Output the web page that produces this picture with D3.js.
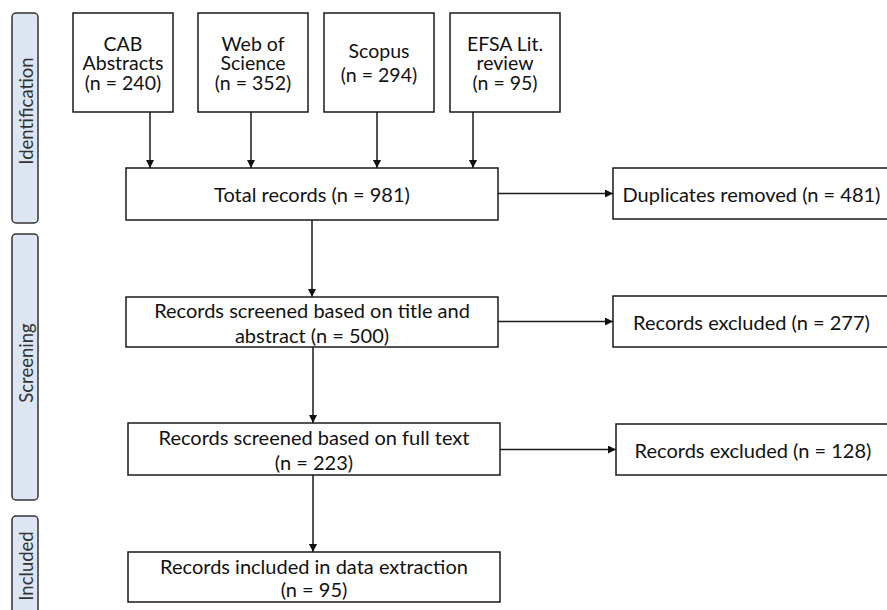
<!DOCTYPE html>
<html><head><meta charset="utf-8">
<script src="https://cdn.jsdelivr.net/npm/d3@7"></script>
<style>
html,body{margin:0;padding:0;background:#fff;}
svg{display:block;}
text{font-family:Lato,"Open Sans",sans-serif;fill:#111;}
</style></head><body>
<script>
// ---- data ----
const phases = ["Identification", "Screening", "Included"];
const sourceNames = [["CAB", "Abstracts"], ["Web of", "Science"], ["Scopus"], ["EFSA Lit.", "review"]];
const sourceCounts = [240, 352, 294, 95];
const mainSteps = [["Total records"], ["Records screened based on title and", "abstract"], ["Records screened based on full text"], ["Records included in data extraction"]];
const mainCounts = [981, 500, 223, 95];
const sideSteps = ["Duplicates removed", "Records excluded", "Records excluded"];
const sideCounts = [481, 277, 128];

// ---- layout ----
const W = 887, H = 610;
const svg = d3.select("body").append("svg").attr("width", W).attr("height", H);
const defs = svg.append("defs");
defs.append("marker").attr("id", "ah").attr("viewBox", "0 0 10 10")
  .attr("refX", 10).attr("refY", 5).attr("markerWidth", 9).attr("markerHeight", 8)
  .attr("markerUnits", "userSpaceOnUse").attr("orient", "auto")
  .append("path").attr("d", "M0,0L10,5L0,10Z").attr("fill", "#111");

const stroke = "#1a1a1a", sw = 1.5;

// phase label boxes
const phaseY = d3.scaleOrdinal().domain(phases).range([[13, 223], [234, 500], [516, 625]]);
const phaseTextY = d3.scaleOrdinal().domain(phases).range([111, 363, 566]);
const pg = svg.append("g");
phases.forEach(p => {
  const [y0, y1] = phaseY(p);
  pg.append("rect").attr("x", 12).attr("y", y0).attr("width", 26).attr("height", y1 - y0)
    .attr("rx", 4).attr("fill", "#dce6f2").attr("stroke", "#333").attr("stroke-width", 1.5);
  pg.append("text").attr("transform", `translate(26,${phaseTextY(p)}) rotate(-90)`)
    .attr("text-anchor", "middle").attr("dominant-baseline", "central")
    .style("font-size", "18.5px").style("fill", "#333").text(p);
});

function box(x, y, w, h, lines, lh, fs) {
  const g = svg.append("g");
  g.append("rect").attr("x", x).attr("y", y).attr("width", w).attr("height", h)
    .attr("fill", "#fff").attr("stroke", stroke).attr("stroke-width", sw);
  const n = lines.length;
  const t = g.append("text").attr("text-anchor", "middle").style("font-size", fs + "px");
  lines.forEach((s, i) => {
    t.append("tspan").attr("x", x + w / 2)
      .attr("y", y + h / 2 + (i - (n - 1) / 2) * lh)
      .attr("dominant-baseline", "central").text(s);
  });
}
function arrow(x1, y1, x2, y2) {
  svg.append("line").attr("x1", x1).attr("y1", y1).attr("x2", x2).attr("y2", y2)
    .attr("stroke", stroke).attr("stroke-width", sw).attr("marker-end", "url(#ah)");
}

// source boxes
const srcX = [[73, 173], [198, 308], [324, 434], [450, 560]];
const srcArrowX = d3.scaleOrdinal().domain(d3.range(4)).range([150, 251, 377, 473]);
const srcTop = 13, srcBot = 112;
sourceNames.forEach((nm, i) => {
  const lines = nm.concat([`(n = ${sourceCounts[i]})`]);
  const lh = lines.length === 2 ? 24 : 19.5;
  box(srcX[i][0], srcTop, srcX[i][1] - srcX[i][0], srcBot - srcTop, lines, lh, 19.5);
  arrow(srcArrowX(i), srcBot, srcArrowX(i), 168);
});

// main column
const mainY = [[168, 220], [297, 347], [423, 475], [552, 602]];
const mainX = [[126, 498], [126, 498], [128, 500], [128, 500]];
const mainArrowX = [312, 313, 313];
mainSteps.forEach((s, i) => {
  let lines;
  if (s.length === 1 && i === 0) lines = [`${s[0]} (n = ${mainCounts[i]})`];
  else if (s.length === 2) lines = [s[0], `${s[1]} (n = ${mainCounts[i]})`];
  else lines = [s[0], `(n = ${mainCounts[i]})`];
  const [x0, x1] = mainX[i], [y0, y1] = mainY[i];
  box(x0, y0, x1 - x0, y1 - y0, lines, i === 3 ? 23 : 25, 20);
  if (i < mainSteps.length - 1) arrow(mainArrowX[i], y1, mainArrowX[i], mainY[i + 1][0]);
});

// side boxes
const sideY = [[168, 219], [296, 347], [424, 475]];
const sideX = [613, 613, 616];
sideSteps.forEach((s, i) => {
  const [y0, y1] = sideY[i];
  box(sideX[i], y0, 890 - sideX[i], y1 - y0, [`${s} (n = ${sideCounts[i]})`], 0, 20);
  const ay = (y0 + y1) / 2;
  arrow(mainX[i][1], ay, sideX[i], ay);
});
</script>
</body></html>
